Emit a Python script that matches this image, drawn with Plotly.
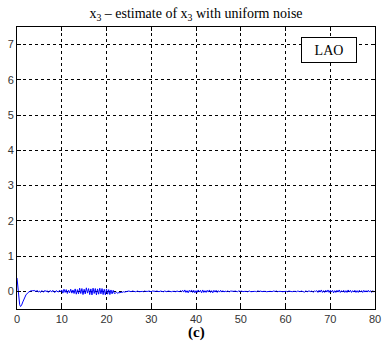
import numpy as np
import plotly.graph_objects as go

# Initial transient of the estimation error
t_start = [0.0, 0.05, 0.2, 0.4, 0.6, 0.8, 1.0, 1.3, 1.6, 2.0, 2.5, 3.0, 3.5]
e_start = [0.38, 0.30, 0.00, -0.25, -0.38, -0.43, -0.40, -0.30, -0.20, -0.10, -0.03, 0.01, 0.02]

# Steady-state error, sampled every 0.25 s from t = 4 to t = 80
e_4_10 = [0.02, -0.01, 0.03, -0.02, 0.01, -0.03, 0.02, 0.00, -0.02, 0.03, -0.01, 0.02,
          -0.03, 0.01, 0.02, -0.02, 0.03, -0.01, -0.03, 0.02, 0.01, -0.02, 0.03, -0.01]
e_10_22 = [0.04, -0.05, 0.06, -0.03, 0.05, -0.06, 0.03, -0.04, 0.06, -0.05, 0.04, -0.06,
           0.07, -0.08, 0.05, -0.07, 0.09, -0.06, 0.08, -0.09, 0.06, -0.07, 0.10, -0.05,
           0.08, -0.09, 0.07, -0.10, 0.09, -0.06, 0.08, -0.10, 0.07, -0.08, 0.09, -0.07,
           0.08, -0.09, 0.06, -0.10, 0.07, -0.08, 0.05, -0.09, 0.04, -0.07, 0.03, -0.06]
e_22_25 = [-0.05, -0.02, -0.06, -0.03, -0.04, -0.02, -0.03, -0.01, -0.02, -0.01, -0.02, 0.00]
e_25_37 = [0.01, 0.00, -0.01, 0.01, 0.00, 0.01, -0.01, 0.00, 0.01, -0.01, 0.00, 0.01,
           0.00, -0.01, 0.01, 0.00, -0.01, 0.00, 0.01, 0.00, -0.01, 0.01, 0.00, -0.01,
           0.00, 0.01, 0.00, -0.01, 0.01, 0.00, 0.00, -0.01, 0.01, 0.00, -0.01, 0.01,
           0.00, 0.01, -0.01, 0.00, 0.01, 0.00, -0.01, 0.01, 0.00, -0.01, 0.02, -0.01]
e_37_47 = [0.03, -0.02, 0.04, -0.03, 0.02, -0.04, 0.03, -0.02, 0.04, -0.03, 0.03, -0.04,
           0.02, -0.03, 0.04, -0.02, 0.03, -0.04, 0.04, -0.03, 0.02, -0.03, 0.03, -0.02,
           0.04, -0.03, 0.02, -0.04, 0.03, -0.02, 0.03, -0.03, 0.02, -0.02, 0.03, -0.02,
           0.02, -0.02, 0.01, -0.01]
e_47_67 = [0.01, 0.00, -0.01, 0.01, 0.00, -0.01, 0.00, 0.01, 0.00, -0.01, 0.01, 0.00,
           0.00, 0.01, -0.01, 0.00, 0.01, 0.00, -0.01, 0.00, 0.01, -0.01, 0.00, 0.01,
           0.00, 0.00, -0.01, 0.01, 0.00, 0.00, 0.01, -0.01, 0.00, 0.01, 0.00, -0.01,
           0.00, 0.01, 0.00, 0.00, -0.01, 0.01, 0.00, 0.00, 0.01, -0.01, 0.00, 0.01,
           0.00, -0.01, 0.00, 0.01, 0.00, 0.00, -0.01, 0.01, 0.00, 0.01, -0.01, 0.00,
           0.01, 0.00, -0.01, 0.01, 0.00, -0.01, 0.01, 0.00, 0.01, -0.02, 0.01, 0.00,
           -0.01, 0.02, -0.01, 0.01, 0.00, -0.02, 0.01, 0.00]
e_67_80 = [0.02, -0.03, 0.03, -0.02, 0.04, -0.03, 0.02, -0.03, 0.03, -0.02, 0.04, -0.03,
           0.03, -0.02, 0.03, -0.04, 0.02, -0.03, 0.03, -0.02, 0.04, -0.03, 0.02, -0.02,
           0.03, -0.03, 0.02, -0.03, 0.04, -0.02, 0.03, -0.03, 0.02, -0.02, 0.03, -0.03,
           0.02, -0.03, 0.03, -0.02, 0.02, -0.03, 0.03, -0.02, 0.02, -0.02, 0.03, -0.02,
           0.02, -0.03, 0.02, -0.02, 0.01]

e_steady = e_4_10 + e_10_22 + e_22_25 + e_25_37 + e_37_47 + e_47_67 + e_67_80
t_steady = list(np.linspace(4.0, 80.0, len(e_steady)))

t = t_start + t_steady
e = e_start + e_steady

x_ticks = [0, 10, 20, 30, 40, 50, 60, 70, 80]
y_ticks = [0, 1, 2, 3, 4, 5, 6, 7]

serif = "Times New Roman, Liberation Serif, serif"
sans = "Arial, Liberation Sans, sans-serif"

fig = go.Figure()
fig.add_trace(go.Scatter(x=t, y=e, mode="lines",
                         line=dict(color="#0000ff", width=1), showlegend=False))

axis_common = dict(
    showline=True, linecolor="black", linewidth=1, mirror="ticks",
    ticks="inside", ticklen=4, tickcolor="black",
    showgrid=True, gridcolor="black", gridwidth=1, griddash="dot",
    zeroline=False, automargin=False,
    tickfont=dict(family=sans, size=11, color="#333333"),
)

fig.update_xaxes(range=[0, 80], tickvals=x_ticks, **axis_common)
fig.update_yaxes(range=[-0.5, 7.5], tickvals=y_ticks, **axis_common)

fig.update_layout(
    width=382, height=343,
    margin=dict(l=17, r=7, t=27, b=34),
    paper_bgcolor="white", plot_bgcolor="white",
    title=dict(text="x<sub>3</sub> – estimate of x<sub>3</sub> with uniform noise",
               font=dict(family=serif, size=14, color="black"),
               x=0.513, xanchor="center", y=0.962, yanchor="middle"),
    annotations=[
        dict(text="LAO", x=69.8, y=6.86, xref="x", yref="y", showarrow=False,
             font=dict(family=serif, size=14, color="black"),
             bordercolor="black", borderwidth=1, bgcolor="white",
             width=52, height=22),
        dict(text="<b>(c)</b>", x=0.5, y=-0.085, xref="paper", yref="paper",
             showarrow=False, yanchor="middle",
             font=dict(family=serif, size=15, color="black")),
    ],
)

fig.write_html("out.html")
